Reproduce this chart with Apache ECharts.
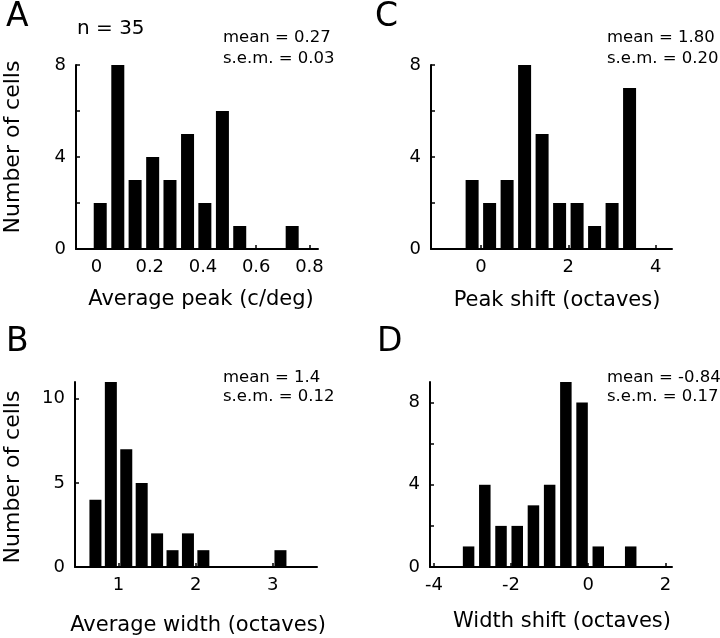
<!DOCTYPE html>
<html>
<head>
<meta charset="utf-8">
<script src="https://cdn.jsdelivr.net/npm/echarts@6/dist/echarts.min.js"></script>
<style>
  html, body { margin: 0; padding: 0; background: #fff; }
  #chart { width: 720px; height: 638px; }
</style>
</head>
<body>
<div id="chart"></div>
<script>
// ---- Data ----
// Panel A: Average peak (c/deg)
const peakCenters = [0.014, 0.080, 0.145, 0.211, 0.276, 0.342, 0.407, 0.473, 0.538, 0.604, 0.669, 0.735];
const peakCounts  = [2, 8, 3, 4, 3, 5, 2, 6, 1, 0, 0, 1];
const peakXTicks  = [0, 0.2, 0.4, 0.6, 0.8];
const peakYTicks  = [0, 4, 8];

// Panel C: Peak shift (octaves)
const shiftCenters = [-0.2, 0.2, 0.6, 1.0, 1.4, 1.8, 2.2, 2.6, 3.0, 3.4];
const shiftCounts  = [3, 2, 3, 8, 5, 2, 2, 1, 2, 7];
const shiftXTicks  = [0, 2, 4];
const shiftYTicks  = [0, 4, 8];

// Panel B: Average width (octaves)
const widthCenters = [0.7, 0.9, 1.1, 1.3, 1.5, 1.7, 1.9, 2.1, 2.3, 2.5, 2.7, 2.9, 3.1];
const widthCounts  = [4, 11, 7, 5, 2, 1, 2, 1, 0, 0, 0, 0, 1];
const widthXTicks  = [1, 2, 3];
const widthYTicks  = [0, 5, 10];

// Panel D: Width shift (octaves)
const wshiftCenters = [-3.10, -2.68, -2.26, -1.84, -1.42, -1.00, -0.58, -0.16, 0.26, 0.68, 1.10];
const wshiftCounts  = [1, 4, 2, 2, 3, 4, 9, 8, 1, 0, 1];
const wshiftXTicks  = [-4, -2, 0, 2];
const wshiftYTicks  = [0, 4, 8];

const panelLetters = ['A', 'C', 'B', 'D'];
const statsMean = ['mean = 0.27', 'mean = 1.80', 'mean = 1.4', 'mean = -0.84'];
const statsSem  = ['s.e.m. = 0.03', 's.e.m. = 0.20', 's.e.m. = 0.12', 's.e.m. = 0.17'];
const xNames = ['Average peak (c/deg)', 'Peak shift (octaves)', 'Average width (octaves)', 'Width shift (octaves)'];
const yName = 'Number of cells';
const nText = 'n = 35';

// ---- Layout ----
const FONT = 'DejaVu Sans';
const grids = [
  { left: 76,  top: 65,  width: 242, height: 184 },
  { left: 431, top: 65,  width: 241, height: 184 },
  { left: 75,  top: 382, width: 242, height: 185 },
  { left: 430, top: 382, width: 242, height: 185 }
];
const xRanges = [[-0.077, 0.832], [-1.14, 4.37], [0.435, 3.574], [-4.1, 2.17]];
const yMax = [8, 8, 11, 9];
const xTickSets = [peakXTicks, shiftXTicks, widthXTicks, wshiftXTicks];
const yLabelSets = [peakYTicks, shiftYTicks, widthYTicks, wshiftYTicks];
const yTickSets = [[0, 2, 4, 6, 8], [0, 2, 4, 6, 8], [0, 5, 10], [0, 2, 4, 6, 8]];
const barWidths = [13, 13, 12, 11.5];
const centers = [peakCenters, shiftCenters, widthCenters, wshiftCenters];
const counts = [peakCounts, shiftCounts, widthCounts, wshiftCounts];

const axisLineStyle = { color: '#000', width: 2 };

const xAxes = grids.map((g, i) => ({
  type: 'value', gridIndex: i,
  min: xRanges[i][0], max: xRanges[i][1],
  axisLine: { show: true, onZero: false, lineStyle: axisLineStyle },
  axisTick: { show: true, inside: true, length: 4, lineStyle: { color: '#000', width: 1.5 }, customValues: xTickSets[i] },
  axisLabel: { show: true, margin: 9, color: '#000', fontFamily: FONT, fontSize: 18, customValues: xTickSets[i] },
  splitLine: { show: false }
}));

const yAxes = grids.map((g, i) => ({
  type: 'value', gridIndex: i,
  min: 0, max: yMax[i],
  axisLine: { show: true, onZero: false, lineStyle: axisLineStyle },
  axisTick: { show: true, inside: true, length: 4, lineStyle: { color: '#000', width: 1.5 }, customValues: yTickSets[i] },
  axisLabel: { show: true, margin: 10, color: '#000', fontFamily: FONT, fontSize: 18, customValues: yLabelSets[i] },
  splitLine: { show: false }
}));

const series = grids.map((g, i) => ({
  type: 'bar', xAxisIndex: i, yAxisIndex: i,
  barWidth: barWidths[i],
  itemStyle: { color: '#000' },
  data: centers[i].map((c, k) => [c, counts[i][k]]),
  silent: true, animation: false
}));

function txt(x, y, text, size, opts) {
  return Object.assign({
    type: 'text', x: x, y: y,
    style: Object.assign({
      text: text, fill: '#000', font: size + 'px "' + FONT + '"',
      textAlign: 'left', textVerticalAlign: 'middle'
    }, (opts && opts.style) || {})
  }, (opts && opts.el) || {});
}

const graphics = [
  // panel letters
  txt(6, 17, panelLetters[0], 33),
  txt(375, 17, panelLetters[1], 33),
  txt(6, 342, panelLetters[2], 33),
  txt(377, 342, panelLetters[3], 33),
  // n = 35
  txt(77, 29, nText, 20),
  // stats
  txt(223, 38, statsMean[0], 16.5), txt(223, 59, statsSem[0], 16.5),
  txt(607, 38, statsMean[1], 16.5), txt(607, 59, statsSem[1], 16.5),
  txt(223, 378, statsMean[2], 16.5), txt(223, 397, statsSem[2], 16.5),
  txt(607, 378, statsMean[3], 16.5), txt(607, 397, statsSem[3], 16.5),
  // x axis names
  txt(201, 300, xNames[0], 21, { style: { textAlign: 'center' } }),
  txt(557, 301, xNames[1], 21, { style: { textAlign: 'center' } }),
  txt(198, 626, xNames[2], 21, { style: { textAlign: 'center' } }),
  txt(562, 622, xNames[3], 21, { style: { textAlign: 'center' } }),
  // y axis names
  txt(13, 147, yName, 22, { style: { textAlign: 'center' }, el: { rotation: Math.PI / 2 } }),
  txt(13, 477, yName, 22, { style: { textAlign: 'center' }, el: { rotation: Math.PI / 2 } })
];

const chart = echarts.init(document.getElementById('chart'), null, { renderer: 'canvas' });
chart.setOption({
  animation: false,
  backgroundColor: '#fff',
  grid: grids.map(g => Object.assign({ containLabel: false }, g)),
  xAxis: xAxes,
  yAxis: yAxes,
  series: series,
  graphic: graphics
});
</script>
</body>
</html>
